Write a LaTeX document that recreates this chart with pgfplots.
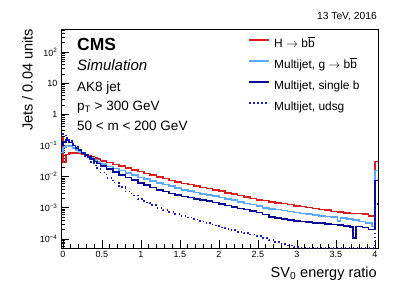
\documentclass[border=0pt]{standalone}
\usepackage{fontspec}
\setmainfont{Liberation Sans}
\usepackage{pgfplots}
\pgfplotsset{compat=1.18}
\definecolor{cred}{RGB}{222,30,30}
\definecolor{clblue}{RGB}{90,170,255}
\definecolor{cdblue}{RGB}{10,10,150}
\definecolor{cdot}{RGB}{30,30,190}
\newcommand{\fs}[1]{\fontsize{#1bp}{#1bp}\selectfont}
\begin{document}
\begin{tikzpicture}[x=1bp,y=1bp]
\useasboundingbox (0,0) rectangle (407,293);
\begin{axis}[
  at={(61bp,45bp)}, anchor=south west, scale only axis,
  width=317bp, height=219bp,
  ymode=log, xmin=-0.025, xmax=4.04, ymin=5.1e-5, ymax=550,
  axis line style={line width=0.8bp},
  tick align=inside, xtick pos=bottom, ytick pos=left,
  xtick={0,0.5,1,1.5,2,2.5,3,3.5,4}, minor x tick num=4,
  ytick={1e-4,1e-3,1e-2,1e-1,1,10,100},
  yticklabels={10\textsuperscript{−4},10\textsuperscript{−3},10\textsuperscript{−2},10\textsuperscript{−1},1,10,10\textsuperscript{2}},
  minor ytick={6e-5,7e-5,8e-5,9e-5,2e-4,3e-4,4e-4,5e-4,6e-4,7e-4,8e-4,9e-4,2e-3,3e-3,4e-3,5e-3,6e-3,7e-3,8e-3,9e-3,2e-2,3e-2,4e-2,5e-2,6e-2,7e-2,8e-2,9e-2,0.2,0.3,0.4,0.5,0.6,0.7,0.8,0.9,2,3,4,5,6,7,8,9,20,30,40,50,60,70,80,90,200,300,400,500},
  major tick length=8bp, minor tick length=4bp,
  tick style={line width=0.6bp, black},
  /pgf/number format/assume math mode=true,
  ticklabel style={font=\fs{9}},
  legend style={at={(0.59,0.9589)}, anchor=north west, draw=none, fill=none,
    inner sep=0pt, font=\fs{11.9}, row sep=9bp, column sep=4bp,
    nodes={inner sep=0pt, text height=9bp, text depth=3bp}},
  legend cell align=left,
  legend image code/.code={\draw[#1, line width=2bp] (0bp,4bp) -- (20bp,4bp);},
]
\addplot[const plot, color=cred, line width=1.6bp] coordinates {
(-0.04,0.18) (0,0.028) (0.04,0.052) (0.08,0.057) (0.12,0.058) (0.16,0.057) (0.2,0.055) (0.24,0.052) (0.28,0.049) (0.32,0.046) (0.36,0.043) (0.40,0.040) (0.44,0.036)
(0.48,0.0316) (0.56,0.0282) (0.64,0.0245) (0.72,0.0215) (0.80,0.019) (0.88,0.0165) (0.96,0.0145) (1.04,0.0127) (1.12,0.0112) (1.20,0.0098) (1.28,0.0086) (1.36,0.0076) (1.44,0.0067) (1.52,0.0060) (1.60,0.0055) (1.68,0.0049) (1.76,0.0045) (1.84,0.0041) (1.92,0.0037) (2.00,0.0034) (2.08,0.0030) (2.16,0.00275) (2.24,0.00245) (2.32,0.00224) (2.40,0.0020) (2.48,0.00178) (2.56,0.0017) (2.64,0.00155) (2.72,0.00145) (2.80,0.00135) (2.88,0.00126) (2.96,0.00115) (3.04,0.0011) (3.12,0.00102) (3.20,0.00095) (3.28,0.00089) (3.36,0.00083) (3.44,0.00076) (3.52,0.00072) (3.60,0.00069) (3.68,0.00066) (3.76,0.00065) (3.84,0.00062) (3.92,0.00055) (4.00,0.031) (4.04,0.031)};
\addlegendentry{H $\rightarrow$ b$\overline{\mbox{b}}$}
\addplot[const plot, color=clblue, line width=1.6bp] coordinates {
(-0.04,0.06) (0,0.085) (0.04,0.1) (0.08,0.095) (0.12,0.082) (0.16,0.072) (0.2,0.063) (0.24,0.056) (0.28,0.049) (0.32,0.044) (0.36,0.039) (0.40,0.034) (0.44,0.029) (0.48,0.025) (0.56,0.021) (0.64,0.018) (0.72,0.0155) (0.80,0.0132) (0.88,0.0112) (0.96,0.0093) (1.04,0.0082) (1.12,0.0071) (1.20,0.0062) (1.28,0.0055) (1.36,0.0049) (1.44,0.0043) (1.52,0.0038) (1.60,0.0034) (1.68,0.0031) (1.76,0.0028) (1.84,0.0026) (1.92,0.00234) (2.00,0.00214) (2.08,0.0019) (2.16,0.00174) (2.24,0.00155) (2.32,0.00138) (2.40,0.00126) (2.48,0.00112) (2.56,0.001) (2.64,0.00091) (2.72,0.00087) (2.80,0.00081) (2.88,0.00076) (2.96,0.00071) (3.04,0.00066) (3.12,0.00063) (3.20,0.00059) (3.28,0.00055) (3.36,0.00052) (3.44,0.0005) (3.52,0.00038) (3.56,0.00047) (3.64,0.00044) (3.72,0.0004) (3.80,0.00036) (3.88,0.00032) (3.96,0.00025) (4.00,0.0155) (4.04,0.0155)};
\addlegendentry{Multijet, g $\rightarrow$ b$\overline{\mbox{b}}$}
\addplot[const plot, color=cdblue, line width=1.6bp] coordinates {
(-0.04,0.1) (0,0.13) (0.04,0.15) (0.08,0.125) (0.12,0.1) (0.16,0.083) (0.2,0.07) (0.24,0.058) (0.28,0.049) (0.32,0.042) (0.36,0.036) (0.40,0.031) (0.44,0.026) (0.48,0.022) (0.56,0.0175) (0.64,0.014) (0.72,0.0114) (0.80,0.0093) (0.88,0.0077) (0.96,0.0063) (1.04,0.0053) (1.12,0.0045) (1.20,0.0038) (1.28,0.0033) (1.36,0.0029) (1.44,0.0026) (1.52,0.0023) (1.60,0.00214) (1.68,0.00195) (1.76,0.00178) (1.84,0.00162) (1.92,0.00148) (2.00,0.00132) (2.08,0.00117) (2.16,0.00107) (2.24,0.00095) (2.32,0.00087) (2.40,0.00079) (2.48,0.00071) (2.56,0.0006) (2.64,0.0005) (2.72,0.00047) (2.80,0.00044) (2.88,0.0004) (2.96,0.00038) (3.04,0.00036) (3.12,0.00035) (3.20,0.00033) (3.28,0.00032) (3.36,0.0003) (3.44,0.00029) (3.52,0.00028) (3.60,0.00026) (3.68,0.00024) (3.72,0.000107) (3.76,0.00025) (3.84,0.00023) (3.92,0.0002) (4.00,0.0074) (4.04,0.0074)};
\addlegendentry{Multijet, single b}
\addplot[const plot, color=cdot, line width=1.6bp, dash pattern=on 1.6bp off 2.4bp] coordinates {
(-0.04,0.26) (0,0.21) (0.04,0.17) (0.08,0.14) (0.12,0.11) (0.16,0.088) (0.2,0.071) (0.24,0.057) (0.28,0.046) (0.32,0.036) (0.36,0.029) (0.40,0.023) (0.44,0.018) (0.48,0.0135) (0.56,0.0092) (0.64,0.0064) (0.72,0.0046) (0.80,0.0033) (0.88,0.0025) (0.96,0.0019) (1.04,0.00148) (1.12,0.0012) (1.20,0.001) (1.28,0.00086) (1.36,0.00074) (1.44,0.00064) (1.52,0.00055) (1.60,0.00048) (1.68,0.00042) (1.76,0.00036) (1.84,0.00032) (1.92,0.00027) (2.00,0.000234) (2.08,0.00021) (2.16,0.00019) (2.24,0.00017) (2.32,0.000155) (2.40,0.000138) (2.48,0.000123) (2.56,0.000107) (2.64,0.000093) (2.72,0.000079) (2.80,0.000069) (2.88,0.000062) (2.96,0.000054) (3.04,0.0000515) (4.00,0.0013) (4.04,0.0013)};
\addlegendentry{Multijet, udsg}
\end{axis}
\node[anchor=base west, inner sep=0pt, font=\bfseries\fs{17.5}] at (77,243) {CMS};
\node[anchor=base west, inner sep=0pt, font=\itshape\fs{15}] at (77,222.3) {Simulation};
\node[anchor=base west, inner sep=0pt, font=\fs{13.5}] at (77,201.3) {AK8 jet};
\node[anchor=base west, inner sep=0pt, font=\fs{13.5}] at (77,182.3) {p\textsubscript{T} > 300 GeV};
\node[anchor=base west, inner sep=0pt, font=\fs{13.5}] at (77,162.3) {50 < m < 200 GeV};
\node[anchor=base east, inner sep=0pt, font=\fs{10.3}] at (377,273.7) {13 TeV, 2016};
\node[anchor=base east, inner sep=0pt, font=\fs{14.5}] at (377,15.7) {SV\textsubscript{0} energy ratio};
\node[anchor=base east, inner sep=0pt, rotate=90, font=\fs{14.5}] at (32.5,264) {Jets / 0.04 units};
\end{tikzpicture}
\end{document}
